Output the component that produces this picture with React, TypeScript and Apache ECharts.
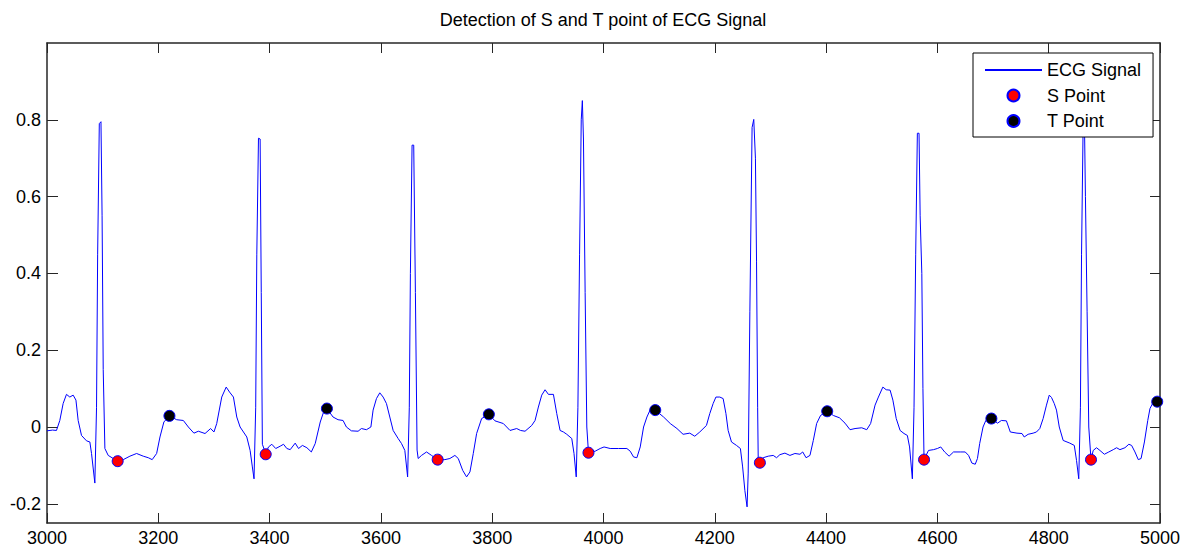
import React, { useEffect, useRef } from "react";
import * as echarts from "echarts";

const chartTitle = "Detection of S and T point of ECG Signal";
const seriesNames = ["ECG Signal", "S Point", "T Point"];
const xTickValues = [3000, 3200, 3400, 3600, 3800, 4000, 4200, 4400, 4600, 4800, 5000];
const yTickValues = [-0.2, 0, 0.2, 0.4, 0.6, 0.8];

// ECG trace: [sample, amplitude]
const ecgSignal: [number, number][] = [
  [3000, -0.010], [3010, -0.008], [3017, -0.009], [3023, 0.017], [3029, 0.061], [3035, 0.085],
  [3041, 0.078], [3047, 0.083], [3052, 0.070], [3056, 0.017], [3062, -0.022], [3071, -0.036],
  [3077, -0.039], [3080, -0.069], [3086, -0.146], [3089, 0.05], [3091, 0.45], [3094, 0.79],
  [3097, 0.795], [3099, 0.55], [3101, 0.15], [3104, -0.056], [3110, -0.074], [3119, -0.082],
  [3127, -0.089], [3137, -0.085], [3149, -0.076], [3161, -0.069], [3173, -0.076], [3182, -0.080],
  [3189, -0.085], [3197, -0.069], [3203, -0.026], [3210, 0.013], [3220, 0.029], [3233, 0.019],
  [3245, 0.017], [3254, 0.0], [3264, -0.016], [3272, -0.011], [3284, -0.017], [3294, -0.004],
  [3300, -0.013], [3305, 0.009], [3314, 0.078], [3322, 0.104], [3328, 0.091], [3335, 0.078],
  [3341, 0.026], [3347, 0.0], [3359, -0.026], [3365, -0.061], [3369, -0.104], [3372, -0.135],
  [3375, 0.05], [3377, 0.45], [3380, 0.752], [3383, 0.75], [3385, 0.35], [3387, -0.045],
  [3393, -0.069], [3398, -0.052], [3404, -0.045], [3411, -0.056], [3419, -0.050], [3425, -0.045],
  [3431, -0.056], [3437, -0.059], [3446, -0.042], [3452, -0.056], [3459, -0.048], [3467, -0.054],
  [3475, -0.065], [3482, -0.043], [3491, 0.013], [3497, 0.039], [3503, 0.048], [3514, 0.026],
  [3523, 0.019], [3532, 0.017], [3538, 0.0], [3547, -0.010], [3559, -0.011], [3565, -0.004],
  [3574, -0.007], [3582, 0.0], [3586, 0.044], [3592, 0.074], [3598, 0.089], [3604, 0.078],
  [3610, 0.061], [3616, 0.026], [3622, -0.009], [3631, -0.030], [3637, -0.043], [3643, -0.061],
  [3648, -0.130], [3651, 0.05], [3653, 0.40], [3656, 0.734], [3659, 0.734], [3662, 0.35],
  [3665, -0.06], [3667, -0.082], [3673, -0.074], [3682, -0.065], [3691, -0.074], [3702, -0.085],
  [3715, -0.085], [3724, -0.082], [3733, -0.074], [3739, -0.082], [3747, -0.113], [3754, -0.130],
  [3760, -0.117], [3766, -0.069], [3772, -0.017], [3781, 0.022], [3794, 0.033], [3805, 0.016],
  [3820, 0.009], [3832, -0.009], [3844, -0.004], [3851, -0.009], [3859, -0.011], [3871, 0.004],
  [3877, 0.017], [3883, 0.052], [3889, 0.083], [3895, 0.097], [3901, 0.085], [3910, 0.085],
  [3916, 0.035], [3922, -0.009], [3928, -0.013], [3934, -0.019], [3943, -0.030], [3947, -0.069],
  [3951, -0.130], [3954, 0.05], [3957, 0.45], [3960, 0.80], [3962, 0.85], [3964, 0.75],
  [3967, 0.35], [3970, 0.0], [3973, -0.067], [3985, -0.063], [3994, -0.056], [4001, -0.052],
  [4012, -0.056], [4027, -0.056], [4042, -0.056], [4048, -0.063], [4054, -0.078], [4060, -0.080],
  [4066, -0.052], [4072, 0.0], [4078, 0.026], [4084, 0.045], [4093, 0.044], [4108, 0.026],
  [4120, 0.009], [4132, -0.004], [4143, -0.019], [4155, -0.016], [4164, -0.024], [4173, -0.013],
  [4185, 0.004], [4191, 0.035], [4197, 0.061], [4202, 0.078], [4209, 0.078], [4215, 0.074],
  [4220, 0.035], [4224, -0.009], [4230, -0.039], [4239, -0.048], [4246, -0.056], [4250, -0.104],
  [4254, -0.165], [4258, -0.208], [4260, -0.12], [4263, 0.30], [4267, 0.78], [4270, 0.801],
  [4273, 0.70], [4275, 0.43], [4277, 0.05], [4278, -0.082], [4281, -0.093], [4287, -0.080],
  [4296, -0.076], [4305, -0.074], [4311, -0.080], [4317, -0.072], [4326, -0.068], [4335, -0.074],
  [4344, -0.069], [4353, -0.071], [4358, -0.065], [4364, -0.080], [4371, -0.074], [4377, -0.035],
  [4383, 0.009], [4390, 0.030], [4402, 0.041], [4413, 0.030], [4424, 0.024], [4434, 0.010],
  [4443, -0.007], [4452, -0.004], [4464, -0.002], [4473, -0.007], [4480, 0.009], [4488, 0.057],
  [4494, 0.078], [4502, 0.104], [4508, 0.097], [4515, 0.096], [4520, 0.070], [4526, 0.022],
  [4533, -0.009], [4540, -0.017], [4546, -0.022], [4550, -0.052], [4555, -0.135], [4558, 0.05],
  [4561, 0.45], [4564, 0.765], [4567, 0.765], [4569, 0.55], [4572, 0.40], [4574, 0.10],
  [4576, -0.085], [4584, -0.061], [4593, -0.059], [4600, -0.056], [4606, -0.052], [4613, -0.065],
  [4621, -0.076], [4629, -0.065], [4641, -0.065], [4650, -0.065], [4656, -0.074], [4662, -0.094],
  [4668, -0.097], [4672, -0.082], [4676, -0.043], [4682, 0.0], [4687, 0.017], [4697, 0.022],
  [4708, 0.010], [4715, 0.017], [4724, 0.016], [4731, -0.013], [4743, -0.016], [4752, -0.017],
  [4756, -0.026], [4763, -0.019], [4772, -0.016], [4778, -0.013], [4784, -0.004], [4790, 0.022],
  [4796, 0.057], [4801, 0.083], [4805, 0.077], [4810, 0.061], [4814, 0.044], [4819, 0.0],
  [4826, -0.035], [4838, -0.042], [4846, -0.048], [4850, -0.087], [4854, -0.135], [4857, 0.05],
  [4859, 0.45], [4862, 0.80], [4864, 0.82], [4866, 0.60], [4869, 0.30], [4872, 0.0],
  [4876, -0.085], [4880, -0.061], [4886, -0.054], [4892, -0.061], [4900, -0.071], [4908, -0.065],
  [4916, -0.059], [4922, -0.054], [4928, -0.059], [4937, -0.054], [4944, -0.045], [4949, -0.048],
  [4955, -0.065], [4961, -0.085], [4966, -0.082], [4972, -0.039], [4978, 0.017], [4982, 0.048],
  [4988, 0.065], [4995, 0.066], [5000, 0.066],
];

const sPoints: [number, number][] = [
  [3127, -0.089], [3393, -0.071], [3702, -0.085], [3973, -0.067],
  [4281, -0.093], [4576, -0.085], [4876, -0.085],
];

const tPoints: [number, number][] = [
  [3220, 0.029], [3503, 0.048], [3794, 0.033], [4093, 0.044],
  [4402, 0.041], [4697, 0.022], [4995, 0.066],
];

const FONT = "'Liberation Sans', Arial, Helvetica, sans-serif";
const AXIS_COLOR = "#262626";

function yLabel(v: number): string {
  if (Math.abs(v) < 1e-9) return "0";
  return String(Math.round(v * 10) / 10);
}

function xLabel(v: number): string {
  return String(Math.round(v));
}

export default function App() {
  const ref = useRef<HTMLDivElement>(null);

  useEffect(() => {
    document.body.style.margin = "0";
    if (!ref.current) return;
    const chart = echarts.init(ref.current, undefined, { renderer: "svg" });

    const axisLineStyle = { color: AXIS_COLOR, width: 1.5 };
    const tickLineStyle = { color: AXIS_COLOR, width: 1 };
    const labelStyle = { color: "#000", fontSize: 18, fontFamily: FONT };

    chart.setOption({
      animation: false,
      backgroundColor: "#ffffff",
      title: {
        text: chartTitle,
        left: 603,
        top: 11,
        padding: 0,
        textAlign: "center",
        textStyle: { fontSize: 18, fontWeight: "normal", color: "#000", fontFamily: FONT },
      },
      legend: {
        orient: "vertical",
        left: 973,
        top: 53,
        padding: [8, 12, 7, 11],
        itemWidth: 57,
        itemHeight: 12,
        itemGap: 7.5,
        backgroundColor: "#ffffff",
        borderColor: "#000",
        borderWidth: 1,
        borderRadius: 0,
        textStyle: { fontSize: 18, color: "#000", fontFamily: FONT },
        data: [
          {
            name: seriesNames[0],
            itemStyle: { color: "rgba(0,0,0,0)", borderWidth: 0, opacity: 0 },
          },
          { name: seriesNames[1] },
          { name: seriesNames[2] },
        ],
      },
      grid: { left: 47, right: 29, top: 43, bottom: 26, containLabel: false, outerBoundsMode: "none" },
      xAxis: [
        {
          type: "value",
          position: "bottom",
          min: xTickValues[0],
          max: xTickValues[xTickValues.length - 1],
          interval: 200,
          axisLine: { show: true, onZero: false, lineStyle: axisLineStyle },
          axisTick: { show: true, inside: true, length: 10, lineStyle: tickLineStyle },
          axisLabel: { show: true, margin: 6, formatter: xLabel, ...labelStyle },
          splitLine: { show: false },
        },
        {
          type: "value",
          position: "top",
          min: xTickValues[0],
          max: xTickValues[xTickValues.length - 1],
          interval: 200,
          axisLine: { show: true, onZero: false, lineStyle: axisLineStyle },
          axisTick: { show: true, inside: true, length: 10, lineStyle: tickLineStyle },
          axisLabel: { show: false },
          splitLine: { show: false },
        },
      ],
      yAxis: [
        {
          type: "value",
          position: "left",
          min: -0.25,
          max: 1,
          axisLine: { show: true, onZero: false, lineStyle: axisLineStyle },
          axisTick: { show: true, inside: true, length: 11, lineStyle: tickLineStyle, customValues: yTickValues },
          axisLabel: { show: true, margin: 6, formatter: yLabel, customValues: yTickValues, ...labelStyle },
          splitLine: { show: false },
        },
        {
          type: "value",
          position: "right",
          min: -0.25,
          max: 1,
          axisLine: { show: true, onZero: false, lineStyle: axisLineStyle },
          axisTick: { show: true, inside: true, length: 10, lineStyle: tickLineStyle, customValues: yTickValues },
          axisLabel: { show: false, customValues: yTickValues },
          splitLine: { show: false },
        },
      ],
      series: [
        {
          name: seriesNames[0],
          type: "line",
          xAxisIndex: 0,
          yAxisIndex: 0,
          data: ecgSignal,
          symbol: "none",
          showSymbol: false,
          lineStyle: { color: "#0000ff", width: 1 },
          itemStyle: { color: "#0000ff" },
          z: 2,
        },
        {
          name: seriesNames[1],
          type: "scatter",
          xAxisIndex: 0,
          yAxisIndex: 0,
          data: sPoints,
          symbol: "circle",
          symbolSize: 11,
          itemStyle: { color: "#ff0000", borderColor: "#0000ff", borderWidth: 1, opacity: 1 },
          z: 3,
        },
        {
          name: seriesNames[2],
          type: "scatter",
          xAxisIndex: 0,
          yAxisIndex: 0,
          data: tPoints,
          symbol: "circle",
          symbolSize: 11,
          itemStyle: { color: "#000000", borderColor: "#0000ff", borderWidth: 1, opacity: 1 },
          z: 3,
        },
      ],
    });

    return () => chart.dispose();
  }, []);

  return <div ref={ref} style={{ width: 1189, height: 549, background: "#fff" }} />;
}
